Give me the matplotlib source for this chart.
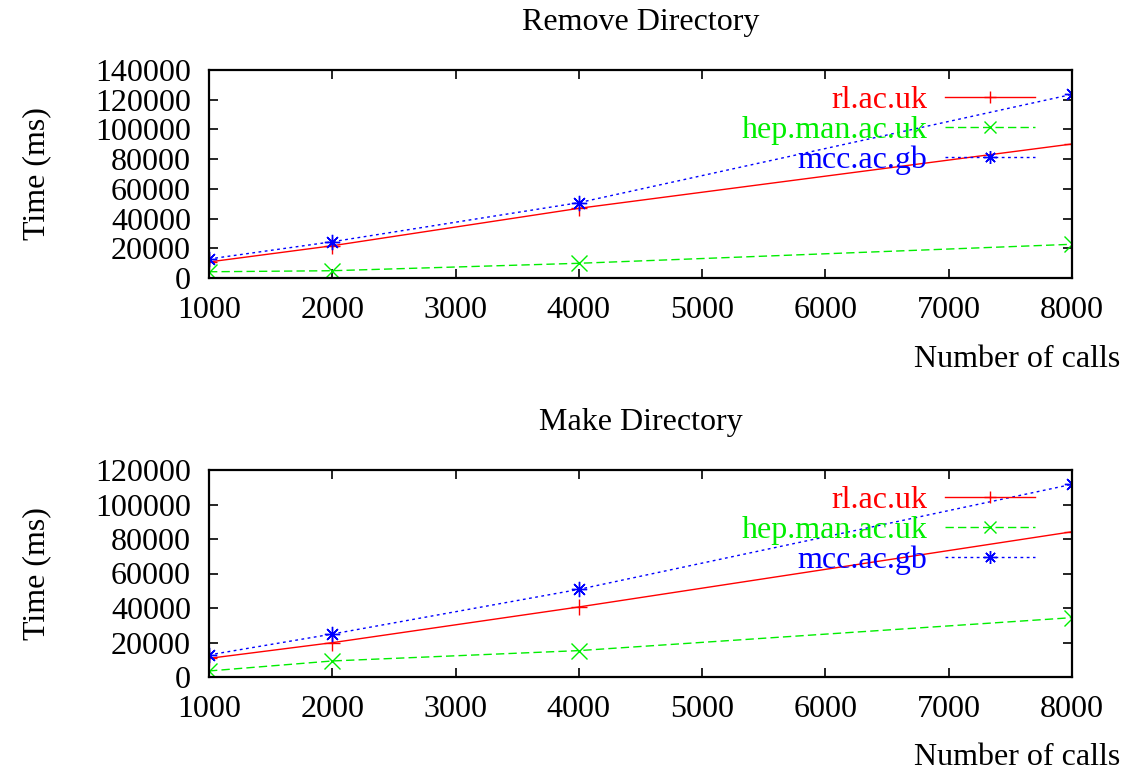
import matplotlib.pyplot as plt

plt.rcParams['font.family'] = ['Liberation Serif', 'DejaVu Serif']

# number of calls per run
calls = [1000, 2000, 4000, 8000]

# Remove Directory timings (ms)
rm_rl = [10800, 21700, 46900, 90200]
rm_hep = [4200, 4900, 9900, 22700]
rm_mcc = [12800, 24400, 50700, 123600]

# Make Directory timings (ms)
mk_rl = [10800, 19900, 40600, 84200]
mk_hep = [3500, 9300, 15300, 34400]
mk_mcc = [12800, 24900, 50800, 111700]

sites = ['rl.ac.uk', 'hep.man.ac.uk', 'mcc.ac.gb']
colors = ['#ff0000', '#00ee00', '#0000ff']
markers = ['+', 'x', (8, 2, 0)]
dashes = [None, (6, 3), (2, 2.5)]

W, H = 1136, 774
fig = plt.figure(figsize=(W / 100, H / 100), dpi=100)


def panel(top_px, bottom_px, title, series, ymax, ystep):
    ax = fig.add_axes([209 / W, (H - bottom_px) / H, 863 / W, (bottom_px - top_px) / H])
    for vals, name, c, m, d in zip(series, sites, colors, markers, dashes):
        line, = ax.plot(calls, vals, color=c, lw=1.0, marker=m, ms=11,
                        mew=1.0, label=name)
        if d is not None:
            line.set_dashes(d)
    ax.set_xlim(1000, 8000)
    ax.set_ylim(0, ymax)
    ax.set_xticks(range(1000, 8001, 1000))
    ax.set_yticks(range(0, ymax + 1, ystep))
    ax.tick_params(direction='in', length=6.5, width=1.2, labelsize=23,
                   top=True, right=True)
    ax.tick_params(axis='x', pad=13)
    ax.tick_params(axis='y', pad=13)
    for s in ax.spines.values():
        s.set_linewidth(1.6)
    ax.set_title(title, fontsize=23, pad=29)
    ax.set_ylabel('Time (ms)', fontsize=23)
    ax.yaxis.set_label_coords(-0.183, 0.5)
    ax.set_xlabel('Number of calls', fontsize=23, ha='right')
    ax.xaxis.set_label_coords(1.056, -0.32)
    leg = ax.legend(loc='upper right', bbox_to_anchor=(0.964, 0.955),
                    frameon=False, markerfirst=False, fontsize=23,
                    handlelength=2.8, handletextpad=0.55, labelspacing=0.02,
                    borderaxespad=0.0, borderpad=0.2, markerscale=0.85)
    for txt, c in zip(leg.get_texts(), colors):
        txt.set_color(c)
    return ax


panel(70, 278, 'Remove Directory', [rm_rl, rm_hep, rm_mcc], 140000, 20000)
panel(470, 677, 'Make Directory', [mk_rl, mk_hep, mk_mcc], 120000, 20000)

fig.savefig('out.png', dpi=100)
